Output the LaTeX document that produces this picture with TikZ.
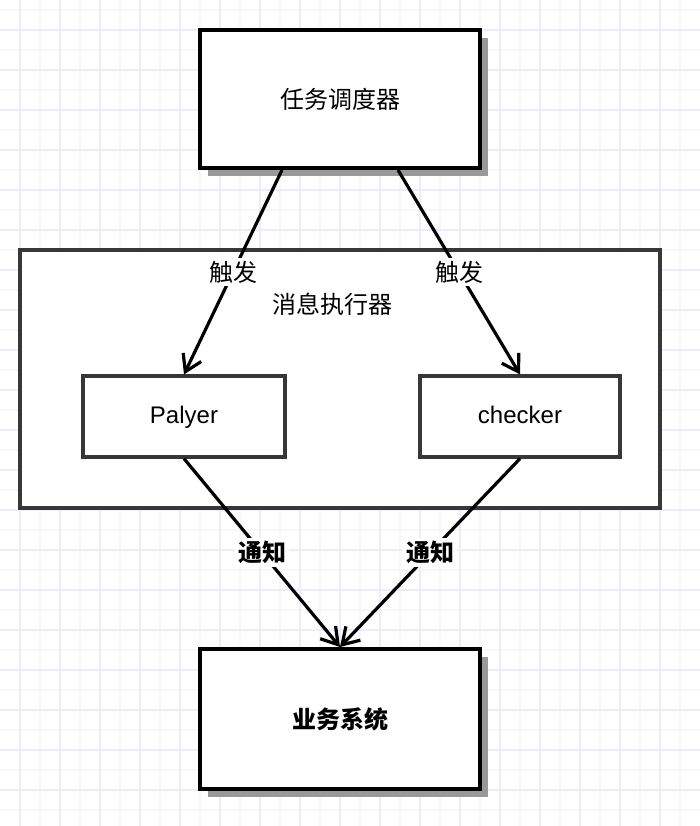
\documentclass[tikz,border=0pt]{standalone}
\usepackage{fontspec}
\setmainfont{Liberation Sans}
\newfontfamily\cjk{Noto Sans CJK SC}
\usetikzlibrary{arrows.meta, positioning, shadows}
\definecolor{gridminor}{RGB}{246,246,252}
\definecolor{gridmajor}{RGB}{236,236,250}
\definecolor{framegray}{RGB}{55,55,55}
\tikzset{
        every node/.style={font=\fontsize{12pt}{14pt}\selectfont}, % text size of all labels
        flow/.style={->, >={Straight Barb[length=8pt, width=10pt]}, line width=1.6pt}, % the arrows
    }
\tikzset{
      main box/.style={
		draw=black, line width=2pt, fill=white,
		minimum width=140pt,
		minimum height={#1},
		drop shadow={shadow xshift=4pt, shadow yshift=-4pt, fill=black!40, opacity=1},
	  },
      inner box/.style={
		draw=framegray, line width=1.6pt, fill=white,
		minimum width={#1},
		minimum height=40.5pt,
		text height=9pt, text depth=2.5pt,
	  },
  		tag/.style={
    	fill=white, inner sep=1.5pt, font=\cjk\fontsize{12pt}{14pt}\selectfont,
      }
  	}

\begin{document}
\begin{tikzpicture}[x=0.5pt, y=-0.5pt]
    \useasboundingbox (0,0) rectangle (700,826);
    % background grid
    \foreach \x in {20,40,...,680} \draw [gridminor, line width=0.6pt] (\x,0) -- (\x,826);
    \foreach \y in {10,30,...,810} \draw [gridminor, line width=0.6pt] (0,\y) -- (700,\y);
    \foreach \x in {20,60,...,660} \draw [gridmajor, line width=0.6pt] (\x,0) -- (\x,826);
    \foreach \y in {30,70,...,790} \draw [gridmajor, line width=0.6pt] (0,\y) -- (700,\y);

    \node [main box=69pt, font=\cjk\fontsize{12pt}{14pt}\selectfont] (sched) at (340,99) {任务调度器};
    \node [draw=framegray, line width=1.6pt, fill=white, minimum width=320pt, minimum height=129pt] (exec) at (340,379) {};
    \node [font=\cjk\fontsize{12pt}{14pt}\selectfont, below=19pt of exec.north, xshift=-4pt] (execname) {消息执行器};
    \node [inner box=101pt] (player) at (184,416.5) {Palyer};
    \node [inner box=100pt] (checker) at (520,416.5) {checker};
    \node [main box=70pt, font=\cjk\bfseries\fontsize{12pt}{14pt}\selectfont] (biz) at (340,719) {业务系统};

    \draw [flow] ([xshift=-29pt]sched.south) -- node [tag] {触发} (player.north);
    \draw [flow] ([xshift=29pt]sched.south) -- node [tag] {触发} (checker.north);
    \draw [flow] (player.south) -- node [tag, font=\cjk\bfseries\fontsize{12pt}{14pt}\selectfont] {通知} (biz.north);
    \draw [flow] (checker.south) -- node [tag, font=\cjk\bfseries\fontsize{12pt}{14pt}\selectfont] {通知} (biz.north);
  \end{tikzpicture}
\end{document}
